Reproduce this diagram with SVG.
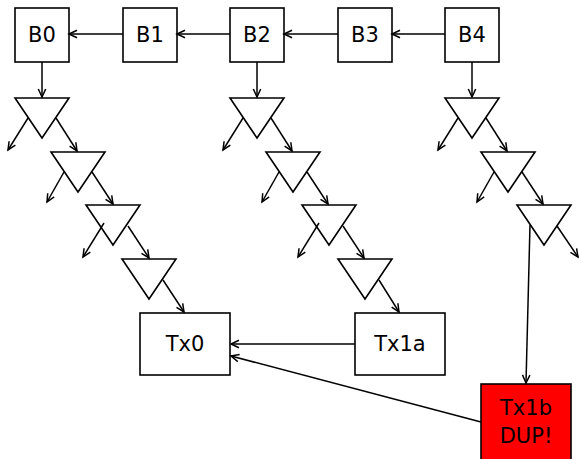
<svg xmlns="http://www.w3.org/2000/svg" width="579" height="459" viewBox="0 0 579 459">
<style>
.n{fill:#fff;stroke:#000;stroke-width:1.6}
.t{font-family:"DejaVu Sans",sans-serif;font-size:21px;text-anchor:middle;fill:#000}
.e{fill:none;stroke:#000;stroke-width:1.5;marker-end:url(#a)}
</style>
<defs>
<marker id="a" markerUnits="userSpaceOnUse" markerWidth="14" markerHeight="12" refX="10" refY="5" orient="auto" viewBox="0 0 14 12">
<path d="M2,1.3 L10,5 L2,8.7" fill="none" stroke="#000" stroke-width="1.5"/>
</marker>
</defs>
<rect width="579" height="459" fill="#fff"/>
<g id="B0"><rect class="n" x="15" y="8" width="54" height="54"/><text class="t" x="42" y="42">B0</text></g>
<g id="B1"><rect class="n" x="123" y="8" width="54" height="54"/><text class="t" x="150" y="42">B1</text></g>
<g id="B2"><rect class="n" x="230" y="8" width="54" height="54"/><text class="t" x="257" y="42">B2</text></g>
<g id="B3"><rect class="n" x="338" y="8" width="54" height="54"/><text class="t" x="365" y="42">B3</text></g>
<g id="B4"><rect class="n" x="445" y="8" width="54" height="54"/><text class="t" x="472" y="42">B4</text></g>
<g id="c0t1"><polygon class="n" points="15,98 69,98 42,138"/></g>
<g id="c0t2"><polygon class="n" points="51,152 105,152 78,192"/></g>
<g id="c0t3"><polygon class="n" points="86,205 140,205 113,245"/></g>
<g id="c0t4"><polygon class="n" points="122,259 176,259 149,299"/></g>
<g id="c2t1"><polygon class="n" points="230,98 284,98 257,138"/></g>
<g id="c2t2"><polygon class="n" points="266,152 320,152 293,192"/></g>
<g id="c2t3"><polygon class="n" points="302,205 356,205 329,245"/></g>
<g id="c2t4"><polygon class="n" points="338,259 392,259 365,299"/></g>
<g id="c4t1"><polygon class="n" points="445,98 499,98 472,138"/></g>
<g id="c4t2"><polygon class="n" points="481,152 535,152 508,192"/></g>
<g id="c4t3"><polygon class="n" points="517,205 571,205 544,245"/></g>
<g id="Tx0"><rect class="n" x="140" y="313" width="90" height="62"/><text class="t" x="185" y="351">Tx0</text></g>
<g id="Tx1a"><rect class="n" x="355" y="313" width="90" height="62"/><text class="t" x="400" y="351">Tx1a</text></g>
<g id="Tx1b"><rect class="n" style="fill:#ff0000" x="481" y="384" width="90" height="80"/><text class="t" x="526" y="415">Tx1b</text><text class="t" x="526" y="443">DUP!</text></g>
<g id="edges">
<line class="e" x1="123" y1="34" x2="69" y2="34"/>
<line class="e" x1="230" y1="34" x2="177" y2="34"/>
<line class="e" x1="338" y1="34" x2="284" y2="34"/>
<line class="e" x1="445" y1="34" x2="392" y2="34"/>
<line class="e" x1="42" y1="62" x2="42" y2="97"/>
<line class="e" x1="257" y1="62" x2="257" y2="97"/>
<line class="e" x1="472" y1="62" x2="472" y2="97"/>
<line class="e" x1="28" y1="118" x2="8" y2="150"/>
<line class="e" x1="56" y1="118" x2="77" y2="151"/>
<line class="e" x1="64" y1="172" x2="47" y2="202"/>
<line class="e" x1="92" y1="172" x2="113" y2="204"/>
<line class="e" x1="104" y1="223" x2="83" y2="257"/>
<line class="e" x1="128" y1="226" x2="149" y2="258"/>
<line class="e" x1="163" y1="280" x2="184" y2="312"/>
<line class="e" x1="243" y1="118" x2="223" y2="150"/>
<line class="e" x1="271" y1="118" x2="292" y2="151"/>
<line class="e" x1="279" y1="172" x2="262" y2="202"/>
<line class="e" x1="307" y1="172" x2="328" y2="204"/>
<line class="e" x1="319" y1="223" x2="298" y2="257"/>
<line class="e" x1="343" y1="226" x2="364" y2="258"/>
<line class="e" x1="379" y1="280" x2="399" y2="312"/>
<line class="e" x1="458" y1="118" x2="438" y2="150"/>
<line class="e" x1="486" y1="118" x2="507" y2="151"/>
<line class="e" x1="494" y1="172" x2="477" y2="202"/>
<line class="e" x1="522" y1="172" x2="543" y2="204"/>
<line class="e" x1="557" y1="226" x2="578" y2="257"/>
<line class="e" x1="530" y1="225" x2="526" y2="383"/>
<line class="e" x1="355" y1="344" x2="231" y2="344"/>
<line class="e" x1="481" y1="422" x2="231" y2="356"/>
</g>
</svg>
